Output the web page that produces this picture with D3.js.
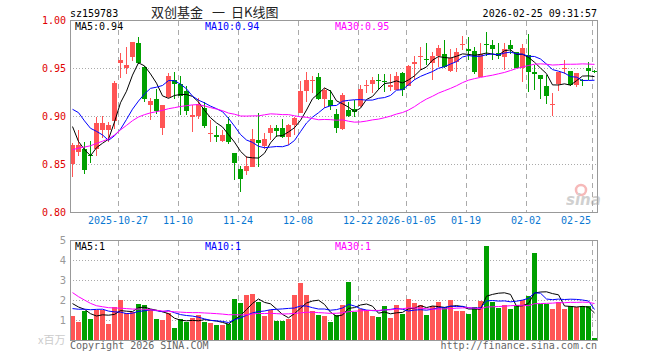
<!DOCTYPE html>
<html>
<head>
<meta charset="utf-8">
<script src="https://cdn.jsdelivr.net/npm/d3@7"></script>
<style>
  body { margin: 0; background: #fff; }
  svg { display: block; }
  text { font-family: "DejaVu Sans Mono", monospace; font-size: 10px; }
</style>
</head>
<body>
<div id="chart"></div>
<script>
/* ================== DONNEES ================== */

const dates = [
  "2025-10-15", "2025-10-16", "2025-10-17", "2025-10-20", "2025-10-21", "2025-10-22", "2025-10-23", "2025-10-24",
  "2025-10-27", "2025-10-28", "2025-10-29", "2025-10-30", "2025-10-31", "2025-11-03", "2025-11-04", "2025-11-05",
  "2025-11-06", "2025-11-07", "2025-11-10", "2025-11-11", "2025-11-12", "2025-11-13", "2025-11-14", "2025-11-17",
  "2025-11-18", "2025-11-19", "2025-11-20", "2025-11-21", "2025-11-24", "2025-11-25", "2025-11-26", "2025-11-27",
  "2025-11-28", "2025-12-01", "2025-12-02", "2025-12-03", "2025-12-04", "2025-12-05", "2025-12-08", "2025-12-09",
  "2025-12-10", "2025-12-11", "2025-12-12", "2025-12-15", "2025-12-16", "2025-12-17", "2025-12-18", "2025-12-19",
  "2025-12-22", "2025-12-23", "2025-12-24", "2025-12-25", "2025-12-26", "2025-12-29", "2025-12-30", "2025-12-31",
  "2026-01-05", "2026-01-06", "2026-01-07", "2026-01-08", "2026-01-09", "2026-01-12", "2026-01-13", "2026-01-14",
  "2026-01-15", "2026-01-16", "2026-01-19", "2026-01-20", "2026-01-21", "2026-01-22", "2026-01-23", "2026-01-26",
  "2026-01-27", "2026-01-28", "2026-01-29", "2026-01-30", "2026-02-02", "2026-02-03", "2026-02-04", "2026-02-05",
  "2026-02-06", "2026-02-09", "2026-02-10", "2026-02-11", "2026-02-12", "2026-02-13", "2026-02-24", "2026-02-25"
];

const open = [
  0.850, 0.862, 0.866, 0.859, 0.866, 0.885, 0.885, 0.895, 0.955, 0.950, 0.961, 0.976, 0.951, 0.911, 0.918, 0.887,
  0.920, 0.937, 0.933, 0.926, 0.899, 0.900, 0.908, 0.881, 0.880, 0.874, 0.892, 0.861, 0.845, 0.843, 0.847, 0.875,
  0.869, 0.882, 0.888, 0.887, 0.878, 0.891, 0.903, 0.926, 0.936, 0.941, 0.918, 0.917, 0.902, 0.886, 0.906, 0.907,
  0.910, 0.931, 0.933, 0.938, 0.936, 0.930, 0.927, 0.945, 0.931, 0.954, 0.962, 0.9595, 0.955, 0.963, 0.9645, 0.947,
  0.9565, 0.974, 0.9695, 0.968, 0.941, 0.975, 0.974, 0.966, 0.961, 0.974, 0.967, 0.950, 0.9635, 0.946, 0.943, 0.9316,
  0.911, 0.9335, 0.949, 0.947, 0.932, 0.937, 0.950, 0.9465
];
const high = [
  0.872, 0.885, 0.873, 0.874, 0.899, 0.900, 0.894, 0.936, 0.966, 0.972, 0.977, 0.982, 0.952, 0.919, 0.928, 0.911,
  0.945, 0.946, 0.942, 0.931, 0.911, 0.919, 0.915, 0.896, 0.890, 0.885, 0.899, 0.861, 0.848, 0.858, 0.886, 0.903,
  0.882, 0.891, 0.891, 0.897, 0.892, 0.899, 0.936, 0.946, 0.942, 0.945, 0.929, 0.927, 0.907, 0.924, 0.915, 0.917,
  0.932, 0.938, 0.941, 0.944, 0.944, 0.944, 0.946, 0.946, 0.953, 0.962, 0.9715, 0.976, 0.967, 0.974, 0.979, 0.9695,
  0.9705, 0.983, 0.982, 0.972, 0.976, 0.987, 0.979, 0.976, 0.976, 0.979, 0.967, 0.975, 0.9855, 0.953, 0.943, 0.943,
  0.924, 0.946, 0.958, 0.947, 0.945, 0.939, 0.956, 0.9475
];
const low = [
  0.836, 0.858, 0.840, 0.851, 0.858, 0.877, 0.873, 0.886, 0.940, 0.944, 0.957, 0.954, 0.915, 0.896, 0.902, 0.880,
  0.919, 0.918, 0.901, 0.901, 0.883, 0.897, 0.887, 0.873, 0.873, 0.873, 0.871, 0.833, 0.821, 0.839, 0.847, 0.847,
  0.866, 0.875, 0.878, 0.877, 0.870, 0.880, 0.903, 0.915, 0.924, 0.917, 0.908, 0.906, 0.882, 0.885, 0.899, 0.899,
  0.909, 0.924, 0.924, 0.927, 0.925, 0.926, 0.927, 0.921, 0.931, 0.9375, 0.948, 0.953, 0.938, 0.951, 0.950, 0.9455,
  0.946, 0.969, 0.958, 0.944, 0.941, 0.962, 0.958, 0.959, 0.948, 0.965, 0.9495, 0.935, 0.925, 0.927, 0.918, 0.913,
  0.8995, 0.926, 0.944, 0.931, 0.930, 0.931, 0.938, 0.9445
];
const close = [
  0.870, 0.870, 0.844, 0.858, 0.893, 0.893, 0.891, 0.934, 0.958, 0.953, 0.977, 0.955, 0.918, 0.916, 0.905, 0.911,
  0.942, 0.933, 0.921, 0.905, 0.901, 0.913, 0.890, 0.882, 0.878, 0.880, 0.873, 0.851, 0.834, 0.848, 0.876, 0.872,
  0.876, 0.888, 0.884, 0.878, 0.891, 0.898, 0.926, 0.938, 0.937, 0.918, 0.927, 0.910, 0.887, 0.922, 0.900, 0.904,
  0.928, 0.932, 0.938, 0.936, 0.935, 0.932, 0.942, 0.927, 0.952, 0.956, 0.9625, 0.958, 0.9625, 0.9705, 0.951, 0.960,
  0.967, 0.975, 0.968, 0.946, 0.965, 0.974, 0.9695, 0.962, 0.9695, 0.9695, 0.950, 0.9705, 0.946, 0.944, 0.939, 0.921,
  0.912, 0.9455, 0.950, 0.932, 0.9445, 0.936, 0.9465, 0.946
];

// volumes en millions
const volume = [
  1.18, 0.88, 1.43, 1.03, 1.48, 1.48, 0.78, 1.63, 1.98, 1.33, 1.38, 1.78, 1.73, 1.53, 1.03, 0.98,
  1.33, 0.58, 1.03, 0.88, 1.08, 1.23, 0.88, 0.83, 0.73, 0.73, 0.78, 2.03, 1.83, 2.23, 2.28, 1.88,
  1.18, 1.48, 0.93, 0.93, 1.03, 2.23, 2.83, 2.23, 1.43, 1.23, 1.18, 0.88, 1.23, 1.73, 2.88, 1.38,
  1.53, 1.48, 1.18, 1.13, 1.68, 1.08, 1.73, 1.28, 2.03, 1.83, 1.73, 1.23, 1.68, 1.88, 1.63, 1.98,
  1.43, 1.43, 1.28, 1.63, 1.93, 4.68, 1.88, 1.58, 1.73, 1.53, 1.73, 1.98, 2.18, 4.33, 1.78, 1.78,
  1.53, 1.88, 1.53, 1.68, 1.63, 1.68, 1.68, 0.08
];

// séances précédentes (hors écran), pour démarrer les moyennes mobiles
const prevClose = [
  0.815, 0.812, 0.818, 0.820, 0.825, 0.818, 0.810, 0.800, 0.812, 0.830, 0.840, 0.845, 0.860, 0.868, 0.870,
  0.890, 0.900, 0.885, 0.880, 0.875, 0.905, 0.930, 0.935, 0.925, 0.930, 0.948, 0.886, 0.890, 0.851
];
const prevVolume = [
  7.0, 6.5, 6.0, 5.0, 3.0, 2.2, 2.0, 2.4, 1.9, 2.1, 1.8, 2.0, 2.3, 1.9, 2.0,
  1.8, 1.3, 1.5, 1.4, 1.3, 1.2, 1.4, 1.3, 1.3, 1.4, 1.73, 2.01, 2.12, 2.06
];

const priceTicks = [0.8, 0.85, 0.9, 0.95, 1.0];
const volumeTicks = [1, 2, 3, 4, 5];
const dateTicks = ["2025-10-27", "2025-11-10", "2025-11-24", "2025-12-08", "2025-12-22", "2026-01-05", "2026-01-19", "2026-02-02", "2026-02-25"];
const dateTickLabels = ["2025-10-27", "11-10", "11-24", "12-08", "12-22", "2026-01-05", "01-19", "02-02", "02-25"];

const maPeriods = [5, 10, 30];
const maColors = ["#000000", "#0000ff", "#ff00ff"];

/* ================== ECHELLES ================== */

const width = 660;
const height = 360;
const left = 70;
const right = 598;

const red = "#ff5555";
const green = "#00a000";
const gridColor = "#aaaaaa";

const x = d3.scaleBand().domain(dates).range([left, right]).padding(0);
const y = d3.scaleLinear().domain([0.8, 1.0]).range([212, 20]);
const yVol = d3.scaleLinear().domain([0, 5]).range([340, 240]);

const svg = d3
  .select("#chart")
  .append("svg")
  .attr("width", width)
  .attr("height", height);

function movingAverage(values, prev, n) {
  const all = prev.concat(values);
  return values.map((_, i) =>
    d3.mean(all.slice(prev.length + i - n + 1, prev.length + i + 1))
  );
}

const isUp = close.map((c, i) => c >= open[i]);

/* ================== TITRES ================== */

svg.append("text").attr("x", 70).attr("y", 17).attr("fill", "#000").text("sz159783");

const title = svg
  .append("text")
  .attr("y", 17)
  .attr("fill", "#222")
  .style("font-family", '"Noto Sans CJK SC", sans-serif')
  .style("font-size", "13px");
title.append("tspan").attr("x", 151).text("双创基金");
title.append("tspan").attr("x", 212).text("一");
title.append("tspan").attr("x", 231).text("日K线图");

svg
  .append("text")
  .attr("x", 597)
  .attr("y", 17)
  .attr("text-anchor", "end")
  .attr("fill", "#000")
  .text("2026-02-25 09:31:57");

/* ================== GRILLES ================== */

const grid = svg.append("g").attr("shape-rendering", "crispEdges");

grid
  .selectAll(".hgrid")
  .data(priceTicks.slice(1, -1))
  .enter()
  .append("line")
  .attr("x1", left)
  .attr("x2", right)
  .attr("y1", (d) => Math.round(y(d)) + 0.5)
  .attr("y2", (d) => Math.round(y(d)) + 0.5)
  .attr("stroke", gridColor)
  .attr("stroke-dasharray", "1,2");

grid
  .selectAll(".vgrid")
  .data(volumeTicks.slice(0, -1))
  .enter()
  .append("line")
  .attr("x1", left)
  .attr("x2", right)
  .attr("y1", (d) => yVol(d) + 0.5)
  .attr("y2", (d) => yVol(d) + 0.5)
  .attr("stroke", gridColor)
  .attr("stroke-dasharray", "1,2");

dateTicks.forEach((d) => {
  const xx = x(d) + 0.5;
  grid.append("line")
    .attr("x1", xx).attr("x2", xx).attr("y1", 21).attr("y2", 212)
    .attr("stroke", gridColor).attr("stroke-dasharray", "5,4");
  grid.append("line")
    .attr("x1", xx).attr("x2", xx).attr("y1", 241).attr("y2", 340)
    .attr("stroke", gridColor).attr("stroke-dasharray", "5,4");
});

/* ================== AXES ================== */

svg
  .append("g")
  .selectAll("text")
  .data(priceTicks)
  .enter()
  .append("text")
  .attr("x", 66)
  .attr("y", (d) => y(d))
  .attr("dy", "0.35em")
  .attr("text-anchor", "end")
  .attr("fill", "#e00000")
  .text((d) => d.toFixed(2));

svg
  .append("g")
  .selectAll("text")
  .data(volumeTicks)
  .enter()
  .append("text")
  .attr("x", 66)
  .attr("y", (d) => yVol(d))
  .attr("dy", "0.35em")
  .attr("text-anchor", "end")
  .attr("fill", "#999")
  .style("font-family", '"DejaVu Sans", sans-serif')
  .text((d) => d);

svg
  .append("text")
  .attr("x", 38)
  .attr("y", 344)
  .attr("fill", "#ccc")
  .style("font-family", '"Noto Sans CJK SC", sans-serif')
  .style("font-size", "11px")
  .text("x百万");

svg
  .append("g")
  .selectAll("text")
  .data(dateTicks)
  .enter()
  .append("text")
  .attr("x", (d, i) => (i === dateTicks.length - 1 ? x(d) - 1 : x(d)))
  .attr("y", 224)
  .attr("text-anchor", (d, i) => (i === dateTicks.length - 1 ? "end" : "middle"))
  .attr("fill", "#0a78d2")
  .text((d, i) => dateTickLabels[i]);

/* ================== CHANDELIERS ================== */

const candles = svg.append("g").attr("shape-rendering", "crispEdges");

candles
  .selectAll(".wick")
  .data(dates)
  .enter()
  .append("rect")
  .attr("x", (d) => x(d) + 2)
  .attr("width", 1)
  .attr("y", (d, i) => y(high[i]))
  .attr("height", (d, i) => Math.max(1, y(low[i]) - y(high[i])))
  .attr("fill", (d, i) => (isUp[i] ? red : green));

candles
  .selectAll(".body")
  .data(dates)
  .enter()
  .append("rect")
  .attr("x", (d) => x(d))
  .attr("width", x.bandwidth() - 1)
  .attr("y", (d, i) => y(Math.max(open[i], close[i])))
  .attr("height", (d, i) => Math.max(1, Math.abs(y(open[i]) - y(close[i]))))
  .attr("fill", (d, i) => (isUp[i] ? red : green));

/* ================== VOLUMES ================== */

svg
  .append("g")
  .attr("shape-rendering", "crispEdges")
  .selectAll("rect")
  .data(dates)
  .enter()
  .append("rect")
  .attr("x", (d) => x(d))
  .attr("width", x.bandwidth() - 1)
  .attr("y", (d, i) => yVol(volume[i]))
  .attr("height", (d, i) => yVol(0) - yVol(volume[i]))
  .attr("fill", (d, i) => (isUp[i] ? red : green));

/* ================== MOYENNES MOBILES ================== */

maPeriods.forEach((n, k) => {
  const maPrice = movingAverage(close, prevClose, n);
  const maVol = movingAverage(volume, prevVolume, n);

  svg
    .append("path")
    .datum(maPrice)
    .attr("fill", "none")
    .attr("stroke", maColors[k])
    .attr("stroke-width", 1)
    .attr("d", d3.line().x((d, i) => x(dates[i]) + 2.5).y((d) => y(d)));

  svg
    .append("path")
    .datum(maVol)
    .attr("fill", "none")
    .attr("stroke", maColors[k])
    .attr("stroke-width", 1)
    .attr("d", d3.line().x((d, i) => x(dates[i]) + 2.5).y((d) => yVol(d)));

  const lx = [75, 205, 335][k];
  svg
    .append("text")
    .attr("x", lx)
    .attr("y", 30)
    .attr("fill", maColors[k])
    .text("MA" + n + ":" + maPrice[maPrice.length - 1].toFixed(2));
  svg
    .append("text")
    .attr("x", lx)
    .attr("y", 250)
    .attr("fill", maColors[k])
    .text("MA" + n + ":" + Math.floor(maVol[maVol.length - 1]));
});

/* ================== CADRES ET PIED ================== */

svg
  .append("g")
  .attr("shape-rendering", "crispEdges")
  .selectAll("rect")
  .data([[20, 212], [240, 340]])
  .enter()
  .append("rect")
  .attr("x", left + 0.5)
  .attr("y", (d) => d[0] + 0.5)
  .attr("width", right - left - 1)
  .attr("height", (d) => d[1] - d[0])
  .attr("fill", "none")
  .attr("stroke", "#999");

const logo = svg.append("g").attr("opacity", 0.55);
logo
  .append("circle")
  .attr("cx", 581)
  .attr("cy", 190)
  .attr("r", 5)
  .attr("fill", "none")
  .attr("stroke", "#f08080")
  .attr("stroke-width", 2.5);
logo
  .append("text")
  .attr("x", 566)
  .attr("y", 205)
  .attr("fill", "#aaa")
  .style("font-family", '"DejaVu Sans", sans-serif')
  .style("font-size", "15px")
  .style("font-weight", "bold")
  .style("font-style", "italic")
  .text("sina");

svg.append("text").attr("x", 70).attr("y", 349).attr("fill", "#666").text("Copyright 2026 SINA.COM");
svg
  .append("text")
  .attr("x", 597)
  .attr("y", 349)
  .attr("text-anchor", "end")
  .attr("fill", "#666")
  .text("http://finance.sina.com.cn");
</script>
</body>
</html>
